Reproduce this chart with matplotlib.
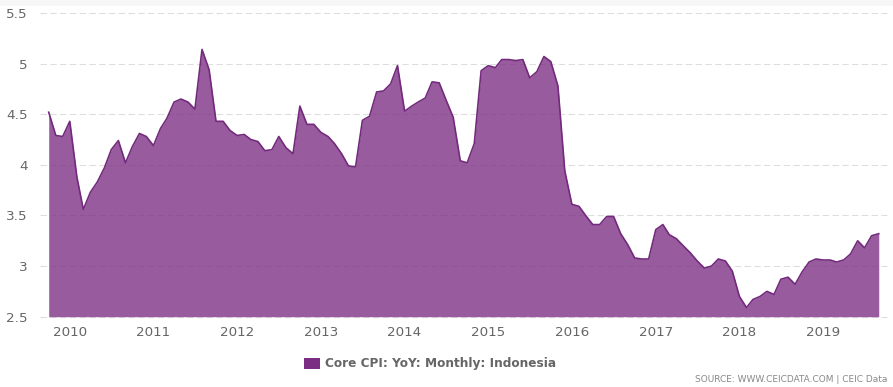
import numpy as np
import pandas as pd
import matplotlib
matplotlib.use('Agg')
import matplotlib.pyplot as plt
import matplotlib.dates as mdates
from matplotlib.patches import Rectangle

# Core CPI YoY, Indonesia, monthly Oct 2009 - Sep 2019
months = pd.date_range('2009-10-01', periods=120, freq='MS')
core_cpi = [4.52, 4.29, 4.28, 4.43, 3.88, 3.56, 3.73, 3.83, 3.97, 4.15,
            4.24, 4.02, 4.18, 4.31, 4.28, 4.19, 4.36, 4.46, 4.62, 4.65,
            4.62, 4.55, 5.14, 4.94, 4.43, 4.43, 4.34, 4.29, 4.30, 4.25,
            4.23, 4.14, 4.15, 4.28, 4.17, 4.11, 4.58, 4.40, 4.40, 4.32,
            4.28, 4.21, 4.11, 3.99, 3.98, 4.44, 4.48, 4.72, 4.73, 4.80,
            4.98, 4.53, 4.58, 4.62, 4.66, 4.82, 4.81, 4.64, 4.47, 4.04,
            4.02, 4.21, 4.93, 4.98, 4.96, 5.04, 5.04, 5.03, 5.04, 4.86,
            4.92, 5.07, 5.02, 4.78, 3.94, 3.61, 3.59, 3.50, 3.41, 3.41,
            3.49, 3.49, 3.32, 3.21, 3.08, 3.07, 3.07, 3.36, 3.41, 3.31,
            3.27, 3.20, 3.13, 3.05, 2.98, 3.00, 3.07, 3.05, 2.95, 2.70,
            2.59, 2.67, 2.70, 2.75, 2.72, 2.87, 2.89, 2.82, 2.94, 3.04,
            3.07, 3.06, 3.06, 3.04, 3.06, 3.12, 3.25, 3.18, 3.30, 3.32]
yticks = [2.5, 3, 3.5, 4, 4.5, 5, 5.5]
ytick_labels = ['2.5', '3', '3.5', '4', '4.5', '5', '5.5']
years = list(range(2010, 2020))
legend_label = 'Core CPI: YoY: Monthly: Indonesia'
source_text = 'SOURCE: WWW.CEICDATA.COM | CEIC Data'

W, H = 893, 387
fig = plt.figure(figsize=(W / 100, H / 100), dpi=100)
fig.patch.set_facecolor('white')

# thin grey strip on top
fig.patches.append(Rectangle((0, 1 - 5.5 / H), 1, 5.5 / H, transform=fig.transFigure,
                             facecolor='#f7f7f7', edgecolor='none'))

ax = fig.add_axes([40 / W, 1 - 316.7 / H, 847 / W, (316.7 - 13) / H])
ax.set_facecolor('none')

for y in yticks:
    ax.axhline(y, color='#dedede', lw=0.8, dashes=(5.8, 3.0), zorder=0, clip_on=False)

ax.fill_between(months, core_cpi, 2.5, color='#7b2d83', alpha=0.78, lw=0, zorder=1)
ax.plot(months, core_cpi, color='#732a7c', lw=1.2, zorder=2)

ax.set_ylim(2.5, 5.5)
ax.set_xlim(pd.Timestamp('2009-08-24'), pd.Timestamp('2019-10-07'))
ax.set_yticks(yticks)
ax.set_yticklabels(ytick_labels)
ax.set_xticks([pd.Timestamp(f'{y}-01-01') for y in years])
ax.xaxis.set_major_formatter(mdates.DateFormatter('%Y'))

for s in ax.spines.values():
    s.set_visible(False)
ax.tick_params(axis='both', length=0, labelsize=9.7, labelcolor='#666666')
ax.tick_params(axis='y', pad=9)
ax.tick_params(axis='x', pad=7)

# legend
fig.patches.append(Rectangle((304 / W, 1 - 369 / H), 16 / W, 11 / H, transform=fig.transFigure,
                             facecolor='#7b2d83', edgecolor='none'))
fig.text(325 / W, 1 - 364 / H, legend_label, ha='left', va='center',
         fontsize=8.7, fontweight='bold', color='#666666')
fig.text(887 / W, 1 - 379 / H, source_text, ha='right', va='center',
         fontsize=6.5, color='#888888')

fig.savefig('out.png', dpi=100)
